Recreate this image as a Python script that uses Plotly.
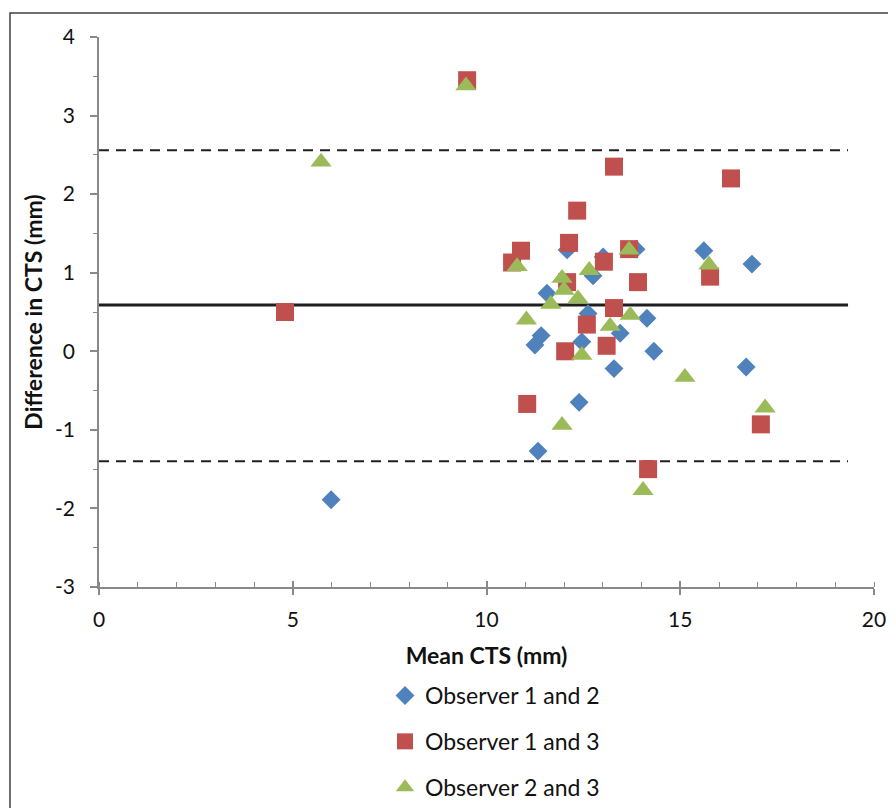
import plotly.graph_objects as go

# Observer 1 and 2
x12 = [5.99, 15.61, 16.85, 16.70, 14.32, 14.14, 13.86, 12.08, 11.56, 13.01,
       12.75, 12.62, 11.25, 11.41, 12.46, 13.45, 13.29, 12.39, 11.33]
y12 = [-1.89, 1.28, 1.11, -0.20, 0.00, 0.42, 1.30, 1.29, 0.74, 1.20,
       0.96, 0.48, 0.08, 0.20, 0.12, 0.23, -0.22, -0.65, -1.27]
# Observer 1 and 3
x13 = [4.80, 9.50, 13.29, 16.31, 12.34, 10.89, 12.13, 10.66, 13.03, 13.68,
       13.91, 12.08, 15.77, 13.29, 12.59, 12.03, 13.10, 11.05, 17.08, 14.17]
y13 = [0.50, 3.45, 2.35, 2.20, 1.79, 1.28, 1.38, 1.13, 1.14, 1.30,
       0.88, 0.88, 0.95, 0.55, 0.34, 0.00, 0.07, -0.67, -0.93, -1.50]
# Observer 2 and 3
x23 = [9.47, 5.73, 10.79, 13.68, 15.74, 12.65, 11.95, 12.00, 11.66, 12.36,
       11.03, 13.19, 13.71, 12.46, 15.12, 17.19, 11.95, 14.04]
y23 = [3.38, 2.41, 1.08, 1.29, 1.10, 1.03, 0.93, 0.78, 0.60, 0.67,
       0.40, 0.32, 0.46, -0.05, -0.33, -0.72, -0.94, -1.77]

# Mean difference and limits of agreement
line_x = [0, 19.33]
mean_diff = 0.59
upper_loa = 2.56
lower_loa = -1.40

series_names = ["Observer 1 and 2", "Observer 1 and 3", "Observer 2 and 3"]
x_ticks = [0, 5, 10, 15, 20]
y_ticks = [-3, -2, -1, 0, 1, 2, 3, 4]
y_tick_text = [str(v) for v in y_ticks]

FONT = "Lato, 'Open Sans', sans-serif"
fig = go.Figure()

for val, dash, w in [(upper_loa, "10px,7px", 2), (lower_loa, "10px,7px", 2), (mean_diff, "solid", 3)]:
    fig.add_trace(go.Scatter(x=line_x, y=[val, val], mode="lines",
                             line=dict(color="#1f1f1f", width=w, dash=dash),
                             showlegend=False, hoverinfo="skip"))

fig.add_trace(go.Scatter(x=x12, y=y12, mode="markers", name=series_names[0],
                         legendgroup="a",
                         marker=dict(symbol="diamond", size=14.5, color="#4F81BD")))
fig.add_trace(go.Scatter(x=x13, y=y13, mode="markers", name=series_names[1],
                         legendgroup="b",
                         marker=dict(symbol="square", size=18, color="#C0504D")))
fig.add_trace(go.Scatter(x=x23, y=y23, mode="markers", name=series_names[2],
                         legendgroup="c",
                         marker=dict(symbol="triangle-up", size=18.5, color="#9BBB59")))

# overlay axis used only to draw the inner half of the major x ticks
fig.add_trace(go.Scatter(x=[0, 20], y=[None, None], xaxis="x2", showlegend=False,
                         hoverinfo="skip"))

axis_col = "#898989"
W, H = 888, 800
L, T, R, B = 91, 29, 22, 221
PW, PH = W - L - R, H - T - B
fig.update_layout(
    width=W, height=H,
    margin=dict(l=L, r=R, t=T, b=B, autoexpand=False),
    paper_bgcolor="white", plot_bgcolor="white",
    font=dict(family=FONT, size=20, color="#111"),
    xaxis=dict(range=[0, 20], tickvals=x_ticks, showgrid=False, zeroline=False,
               showline=True, linecolor=axis_col, linewidth=1.5,
               ticks="outside", ticklen=6, tickwidth=1.5, tickcolor=axis_col,
               minor=dict(dtick=1, ticks="inside", ticklen=5, tickwidth=1.2,
                          tickcolor=axis_col, showgrid=False),
               tickfont=dict(size=21), ticklabelstandoff=7,
               title=dict(text="<b>Mean CTS (mm)</b>", font=dict(size=23), standoff=18)),
    xaxis2=dict(range=[0, 20], overlaying="x", anchor="y", side="bottom",
                tickvals=x_ticks, showticklabels=False, showgrid=False,
                zeroline=False, showline=False, ticks="inside", ticklen=6,
                tickwidth=1.5, tickcolor=axis_col),
    yaxis=dict(range=[-3, 4], tickvals=y_ticks, ticktext=y_tick_text,
               showgrid=False, zeroline=False,
               showline=True, linecolor=axis_col, linewidth=1.5,
               ticks="outside", ticklen=7, tickwidth=1.5, tickcolor=axis_col,
               minor=dict(dtick=0.5, ticks="outside", ticklen=4, tickwidth=1.2,
                          tickcolor=axis_col, showgrid=False),
               tickfont=dict(size=21), ticklabelstandoff=11,
               title=dict(text="<b>Difference in CTS (mm)</b>", font=dict(size=23),
                          standoff=6)),
    legend=dict(x=(377 - L) / PW, y=(579 - 666) / PH, xanchor="left", yanchor="top",
                font=dict(size=23), tracegroupgap=13, bgcolor="rgba(0,0,0,0)",
                itemwidth=30),
    showlegend=True,
    shapes=[dict(type="rect", xref="paper", yref="paper",
                 x0=(2 - L) / PW, x1=(900 - L) / PW,
                 y0=(T + PH - 830) / PH, y1=(T + PH - 5) / PH,
                 line=dict(color="#404040", width=1.5), layer="below")],
)

fig.write_html("out.html")
